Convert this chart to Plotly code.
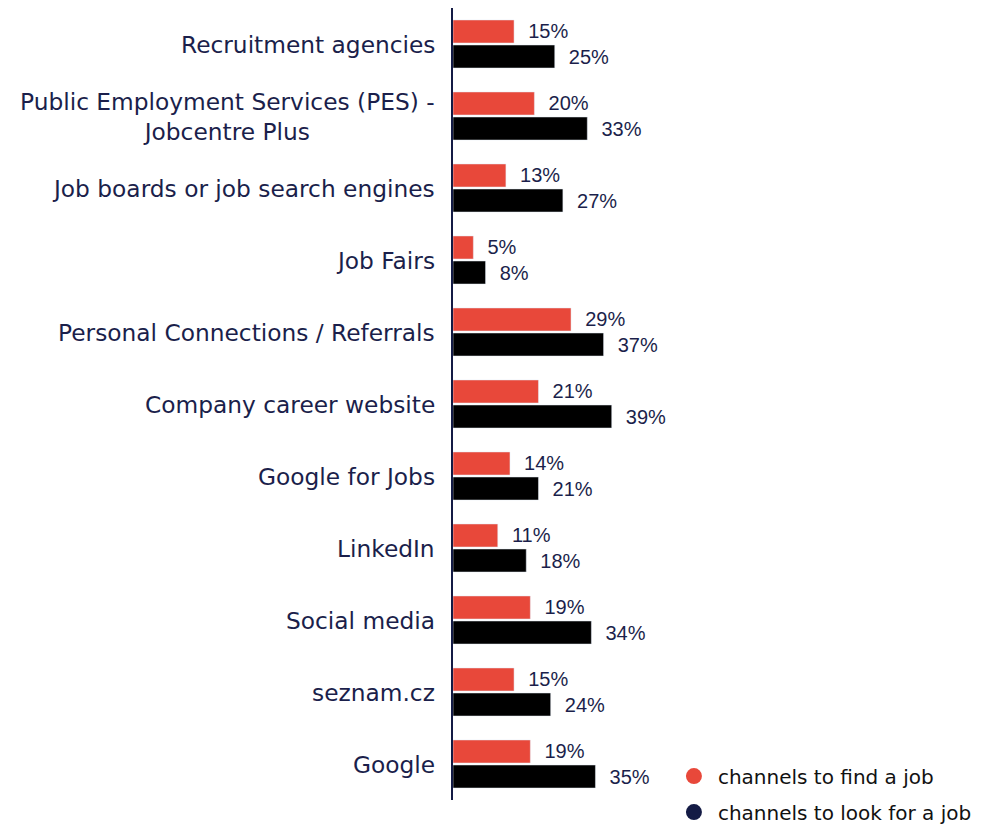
import plotly.graph_objects as go

categories = [
    "Recruitment agencies",
    "Public Employment Services (PES) -<br>Jobcentre Plus",
    "Job boards or job search engines",
    "Job Fairs",
    "Personal Connections / Referrals",
    "Company career website",
    "Google for Jobs",
    "LinkedIn",
    "Social media",
    "seznam.cz",
    "Google",
]
find_job = [15, 20, 13, 5, 29, 21, 14, 11, 19, 15, 19]
look_job = [25, 33, 27, 8, 37, 39, 21, 18, 34, 24, 35]
series_names = ["channels to find a job", "channels to look for a job"]

RED = "#E8483A"
BLACK = "#000000"
NAVY = "#141B45"
TEXT_NAVY = "#1B1F4B"

label_font = dict(family="Liberation Sans, Arial", size=20, color=TEXT_NAVY)

fig = go.Figure()
fig.add_trace(go.Bar(
    y=categories, x=find_job, orientation="h", marker_color=RED,
    texttemplate="\u00a0\u00a0%{x}%", textposition="outside", constraintext="none",
    textfont=label_font, showlegend=False, cliponaxis=False,
))
fig.add_trace(go.Bar(
    y=categories, x=look_job, orientation="h", marker_color=BLACK,
    texttemplate="\u00a0\u00a0%{x}%", textposition="outside", constraintext="none",
    textfont=label_font, showlegend=False, cliponaxis=False,
))
# legend entries with circle markers
fig.add_trace(go.Scatter(x=[None], y=[None], mode="markers", name=series_names[0],
                         marker=dict(color=RED, size=22, symbol="circle"), legendgroup="a"))
fig.add_trace(go.Scatter(x=[None], y=[None], mode="markers", name=series_names[1],
                         marker=dict(color=NAVY, size=22, symbol="circle"), legendgroup="b"))

for c in categories:
    fig.add_annotation(x=0, xref="paper", y=c, yref="y", text=c, showarrow=False,
                       xanchor="right", align="center", xshift=-16,
                       font=dict(family="DejaVu Sans, Verdana", size=23.3, color=TEXT_NAVY))

fig.update_layout(
    width=981, height=818,
    margin=dict(l=445, r=129, t=0, b=26, autoexpand=False),
    plot_bgcolor="white", paper_bgcolor="white",
    barmode="group", bargap=0.305, bargroupgap=0.08,
    xaxis=dict(range=[0, 100], visible=False, showgrid=False, zeroline=False),
    yaxis=dict(autorange="reversed", showticklabels=False, showgrid=False,
               showline=True, linecolor=NAVY, linewidth=1.5, ticks="", zeroline=False),
    legend=dict(x=0.533, xanchor="left", y=0.0075, yanchor="middle",
                font=dict(family="DejaVu Sans, Tahoma", size=20, color="#111111"),
                itemwidth=38, tracegroupgap=7, bgcolor="rgba(0,0,0,0)"),
    showlegend=True,
)

fig.write_html("out.html")
